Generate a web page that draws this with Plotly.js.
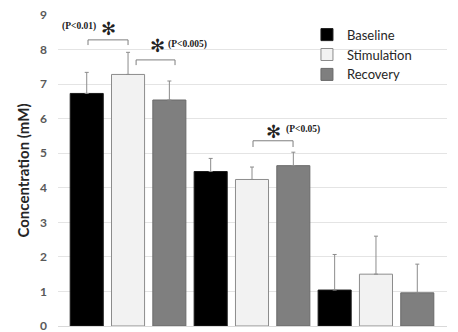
<!DOCTYPE html>
<html>
<head>
<meta charset="utf-8">
<script src="https://cdn.plot.ly/plotly-3.0.1.min.js"></script>
<style>html,body{margin:0;padding:0;background:#fff}#chart{width:458px;height:332px}</style>
</head>
<body>
<div id="chart"></div>
<script>
var categories = ["Group A", "Group B", "Group C"];
var baseline = [6.73, 4.47, 1.04];
var baselineErr = [0.61, 0.38, 1.03];
var stimulation = [7.28, 4.24, 1.50];
var stimulationErr = [0.64, 0.36, 1.10];
var recovery = [6.54, 4.64, 0.96];
var recoveryErr = [0.55, 0.39, 0.83];
var yTicks = [0, 1, 2, 3, 4, 5, 6, 7, 8, 9];

function zeros(n){ var a=[]; for (var i=0;i<n;i++) a.push(0); return a; }

function mk(name, y, err, fill, line) {
  return {
    type: "bar", name: name, x: categories, y: y,
    marker: {color: fill, line: {color: line, width: 1}},
    error_y: {type: "data", symmetric: false, array: err, arrayminus: zeros(err.length),
              color: "#8c8c8c", thickness: 1, width: 2}
  };
}

var data = [
  mk("Baseline", baseline, baselineErr, "#000000", "#1a1a1a"),
  mk("Stimulation", stimulation, stimulationErr, "#f2f2f2", "#8c8c8c"),
  mk("Recovery", recovery, recoveryErr, "#7f7f7f", "#6a6a6a")
];

var bc = "#7f7f7f";
function bracket(x0, x1, yTop, yLeg) {
  return [
    {type: "line", xref: "x", yref: "y", x0: x0, x1: x1, y0: yTop, y1: yTop, line: {color: bc, width: 1}},
    {type: "line", xref: "x", yref: "y", x0: x0, x1: x0, y0: yTop, y1: yLeg, line: {color: bc, width: 1}},
    {type: "line", xref: "x", yref: "y", x0: x1, x1: x1, y0: yTop, y1: yLeg, line: {color: bc, width: 1}}
  ];
}
var shapes = [].concat(
  bracket(-0.323, 0.0, 8.28, 8.13),
  bracket(0.065, 0.379, 7.70, 7.55),
  bracket(1.008, 1.331, 5.36, 5.18)
);

var pFont = {family: "Liberation Serif, serif", size: 9.5, color: "#222"};
var starFont = {family: "DejaVu Sans, sans-serif", size: 18, color: "#222"};
var annotations = [
  {xref: "x", yref: "y", x: -0.545, y: 8.66, text: "<b>(P<0.01)</b>", showarrow: false, xanchor: "left", yanchor: "middle", font: pFont},
  {xref: "x", yref: "y", x: -0.16, y: 8.62, text: "✻", showarrow: false, xanchor: "center", yanchor: "middle", font: starFont},
  {xref: "x", yref: "y", x: 0.235, y: 8.12, text: "✻", showarrow: false, xanchor: "center", yanchor: "middle", font: starFont},
  {xref: "x", yref: "y", x: 0.31, y: 8.16, text: "<b>(P<0.005)</b>", showarrow: false, xanchor: "left", yanchor: "middle", font: pFont},
  {xref: "x", yref: "y", x: 1.175, y: 5.62, text: "✻", showarrow: false, xanchor: "center", yanchor: "middle", font: starFont},
  {xref: "x", yref: "y", x: 1.26, y: 5.70, text: "<b>(P<0.05)</b>", showarrow: false, xanchor: "left", yanchor: "middle", font: pFont}
];

var layout = {
  width: 458, height: 332,
  margin: {l: 58, r: 11, t: 15, b: 6},
  paper_bgcolor: "#ffffff", plot_bgcolor: "#ffffff",
  barmode: "group", bargap: 0, bargroupgap: 0.2,
  font: {family: "Lato, sans-serif", color: "#404040"},
  xaxis: {range: [-0.565, 2.573], showticklabels: false, ticks: "", showgrid: false, zeroline: false, showline: false},
  yaxis: {
    range: [0, 9], tickvals: yTicks, ticktext: yTicks.map(String),
    showgrid: true, gridcolor: "#e4e4e4", gridwidth: 1, zeroline: true, zerolinecolor: "#d9d9d9",
    ticks: "", ticklabelstandoff: 10, ticklabeloverflow: "allow",
    tickfont: {family: "Lato, sans-serif", size: 12, color: "#595959", weight: 700},
    title: {text: "Concentration (mM)", font: {family: "Lato, sans-serif", size: 15, color: "#262626", weight: 700}, standoff: 6}
  },
  legend: {
    x: 0.64, y: 0.985, xanchor: "left", yanchor: "top",
    bgcolor: "rgba(0,0,0,0)", font: {family: "Lato, sans-serif", size: 13, color: "#262626"},
    tracegroupgap: 0, itemwidth: 30
  },
  shapes: shapes,
  annotations: annotations,
  showlegend: true
};

Plotly.newPlot("chart", data, layout, {displayModeBar: false, staticPlot: true});
</script>
</body>
</html>
